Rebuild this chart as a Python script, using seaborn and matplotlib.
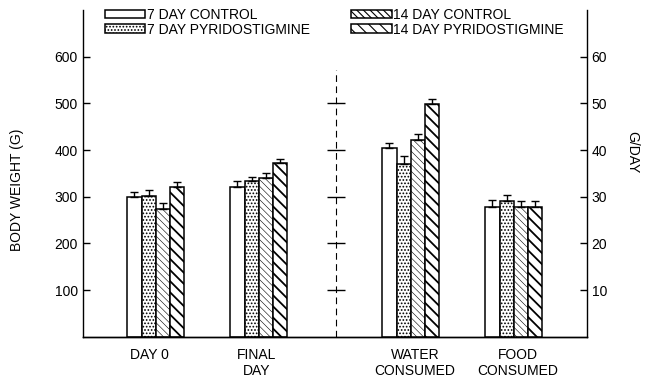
import numpy as np
import pandas as pd
import matplotlib
matplotlib.use('Agg')
import matplotlib.pyplot as plt
import seaborn as sns

# values
categories = ['DAY 0', 'FINAL\nDAY', 'WATER\nCONSUMED', 'FOOD\nCONSUMED']
groups = ['7 DAY CONTROL', '7 DAY PYRIDOSTIGMINE', '14 DAY CONTROL', '14 DAY PYRIDOSTIGMINE']
bar_pos = [0.73, 1.76, 3.28, 4.31]
label_pos = [0.67, 1.74, 3.32, 4.35]

# body weight (g), left axis
day0 = [300, 302, 274, 321]
day0_err = [10, 12, 13, 11]
final_day = [322, 333, 340, 372]
final_day_err = [11, 10, 10, 9]

# intake (g/day), right axis
water = [40.5, 37.0, 42.2, 49.9]
water_err = [1.1, 1.8, 1.2, 1.0]
food = [27.8, 29.0, 27.8, 27.8]
food_err = [1.5, 1.3, 1.3, 1.3]

hatches = ['', '.....', '\\\\\\\\\\', '\\\\\\']
hatch_lw = [0.8, 0.8, 0.4, 1.3]

sns.set_style('ticks')
plt.rcParams['font.family'] = ['Liberation Sans Narrow', 'Liberation Sans', 'DejaVu Sans']
plt.rcParams['hatch.linewidth'] = 0.8
plt.rcParams['font.size'] = 10
for k in ['text.color', 'axes.labelcolor', 'xtick.color', 'ytick.color', 'axes.edgecolor']:
    plt.rcParams[k] = 'black'

fig = plt.figure(figsize=(6.52, 3.82), dpi=100)
ax = fig.add_axes([0.127, 0.118, 0.773, 0.856])
ax2 = ax.twinx()

weight_df = pd.DataFrame({'pos': np.repeat(bar_pos[:2], 4),
                          'group': groups * 2,
                          'value': day0 + final_day})
intake_df = pd.DataFrame({'pos': np.repeat(bar_pos[2:], 4),
                          'group': groups * 2,
                          'value': water + food})

group_w = 0.57
pal = {g: 'white' for g in groups}
sns.barplot(data=weight_df, x='pos', y='value', hue='group', hue_order=groups,
            native_scale=True, width=group_w / (bar_pos[1] - bar_pos[0]),
            palette=pal, edgecolor='black', linewidth=1.1, errorbar=None,
            legend=False, ax=ax)
sns.barplot(data=intake_df, x='pos', y='value', hue='group', hue_order=groups,
            native_scale=True, width=group_w / (bar_pos[3] - bar_pos[2]),
            palette=pal, edgecolor='black', linewidth=1.1, errorbar=None,
            legend=False, ax=ax2)


def add_err(axis, errs_by_cat):
    errs_by_group = np.array(errs_by_cat).T
    for cont, h, hl, errs in zip(axis.containers, hatches, hatch_lw, errs_by_group):
        xs = [b.get_x() + b.get_width() / 2 for b in cont]
        ys = [b.get_height() for b in cont]
        for b in cont:
            b.set_hatch(h)
            if hasattr(b, 'set_hatch_linewidth'):
                b.set_hatch_linewidth(hl)
        axis.errorbar(xs, ys, yerr=[np.zeros(len(errs)), errs], fmt='none',
                      ecolor='black', elinewidth=1, capsize=3, capthick=1)


add_err(ax, [day0_err, final_day_err])
add_err(ax2, [water_err, food_err])

# dashed break axis between the two panels
left_ticks = [100, 200, 300, 400, 500]
mid_x = 2.53
ax.vlines(mid_x, 0, 572, colors='black', linestyles=(0, (6, 4)), lw=0.8)
ax.plot([mid_x] * len(left_ticks), left_ticks, ls='none', marker='_', ms=13,
        mew=1, color='black')

ax.set_ylim(0, 700)
ax2.set_ylim(0, 70)
ax.set_xlim(0, 5.04)
ax.set_yticks([100, 200, 300, 400, 500, 600])
ax2.set_yticks([10, 20, 30, 40, 50, 60])
ax.set_xticks(label_pos)
ax.set_xticklabels(categories)
ax.tick_params(axis='x', length=0, pad=8)
ax.tick_params(axis='y', direction='in', length=5, width=1)
ax2.tick_params(axis='y', direction='in', length=5, width=1)
ax2.set_xlabel('')
ax.set_xlabel('')

for a in (ax, ax2):
    a.spines['top'].set_visible(False)
    for s in a.spines.values():
        s.set_linewidth(1)
ax.spines['right'].set_visible(False)
ax2.spines['left'].set_visible(False)

ax.set_ylabel('BODY WEIGHT (G)')
ax.yaxis.set_label_coords(-0.117, 0.45)
ax2.set_ylabel('G/DAY', rotation=270)
ax2.yaxis.set_label_coords(1.105, 0.566)

ax2.legend(ax.containers, groups, ncol=2, loc='upper left',
           bbox_to_anchor=(0.044, 1.006), frameon=False, borderpad=0,
           borderaxespad=0, handlelength=2.9, handleheight=0.6,
           handletextpad=0.1, columnspacing=3.0, labelspacing=0.05,
           fontsize=10)

fig.savefig('out.png', dpi=100, facecolor='white')
